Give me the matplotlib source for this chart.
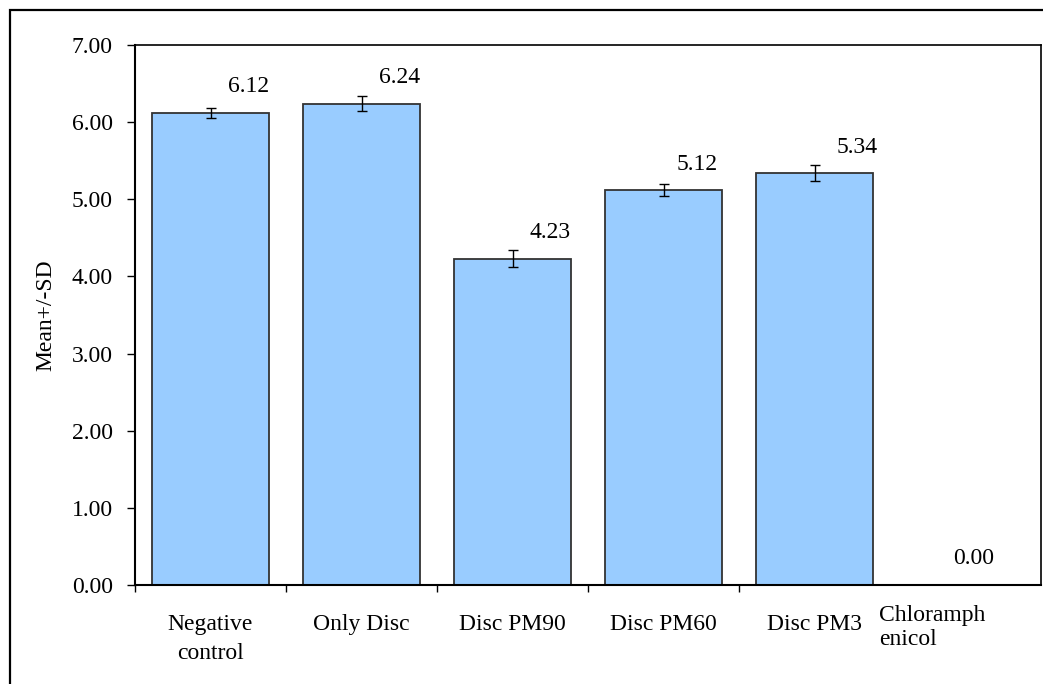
import matplotlib
matplotlib.use("Agg")
from matplotlib import pyplot as plt
from matplotlib.patches import Rectangle
from matplotlib.transforms import ScaledTranslation
import numpy as np

# data
categories = ["Negative\ncontrol", "Only Disc", "Disc PM90", "Disc PM60", "Disc PM3", "Chloramph\nenicol"]
means = [6.12, 6.24, 4.23, 5.12, 5.34, 0.00]
sds = [0.06, 0.10, 0.11, 0.08, 0.10, 0.00]

plt.rcParams['font.family'] = ['Liberation Serif', 'DejaVu Serif']
plt.rcParams['font.size'] = 17

W, H = 1043, 684
fig = plt.figure(figsize=(W / 100, H / 100), dpi=100)
ax = fig.add_axes([135 / W, (H - 585) / H, (1041 - 135) / W, (585 - 45) / H])

x = np.arange(len(categories))
ax.bar(x, means, width=0.77, color='#99ccff', edgecolor='#333333', linewidth=1.3, zorder=2)
ax.errorbar(x, means, yerr=sds, fmt='none', ecolor='black', elinewidth=1, capsize=3.5, capthick=1, zorder=3)

# value labels sit up and to the right of each bar (px offsets)
label_dx = [38, 38, 38, 34, 43, 8]
for xi, m, dx in zip(x, means, label_dx):
    ax.annotate(f"{m:.2f}", xy=(xi, m), xytext=(dx * 0.72, 26 * 0.72), textcoords='offset points',
                ha='center', va='center')

ax.set_xlim(-0.5, len(categories) - 0.5)
ax.set_ylim(0, 7)
ax.set_yticks(np.arange(0, 8, 1))
ax.set_yticklabels([f"{v:.2f}" for v in np.arange(0, 8, 1)])
ax.tick_params(axis='y', direction='out', length=6, width=1, pad=10)

ax.set_xticks(x)
ax.set_xticklabels(categories, linespacing=1.5)
ax.tick_params(axis='x', which='major', length=0, pad=21)
ax.set_xticks(np.arange(-0.5, 4, 1), minor=True)
ax.tick_params(axis='x', which='minor', direction='out', length=5, width=1)

# last label is left aligned and sits a bit higher in the original
last = ax.get_xticklabels()[-1]
last.set_horizontalalignment('left')
last.set_linespacing(1.15)
last.set_transform(last.get_transform() + ScaledTranslation(-86 / 100, 9 / 100, fig.dpi_scale_trans))

for side in ['left', 'bottom']:
    ax.spines[side].set_linewidth(1.5)
for side in ['top', 'right']:
    ax.spines[side].set_linewidth(1.2)

fig.text(46 / W, 1 - 315 / H, "Mean+/-SD", rotation=90, ha='center', va='center')

# outer chart border (cropped on right/bottom in the original)
fig.patches.append(Rectangle((10 / W, -0.2), 2, 1 - 10 / H + 0.2, transform=fig.transFigure,
                             fill=False, edgecolor='black', linewidth=1.6))

fig.savefig("out.png", dpi=100)
